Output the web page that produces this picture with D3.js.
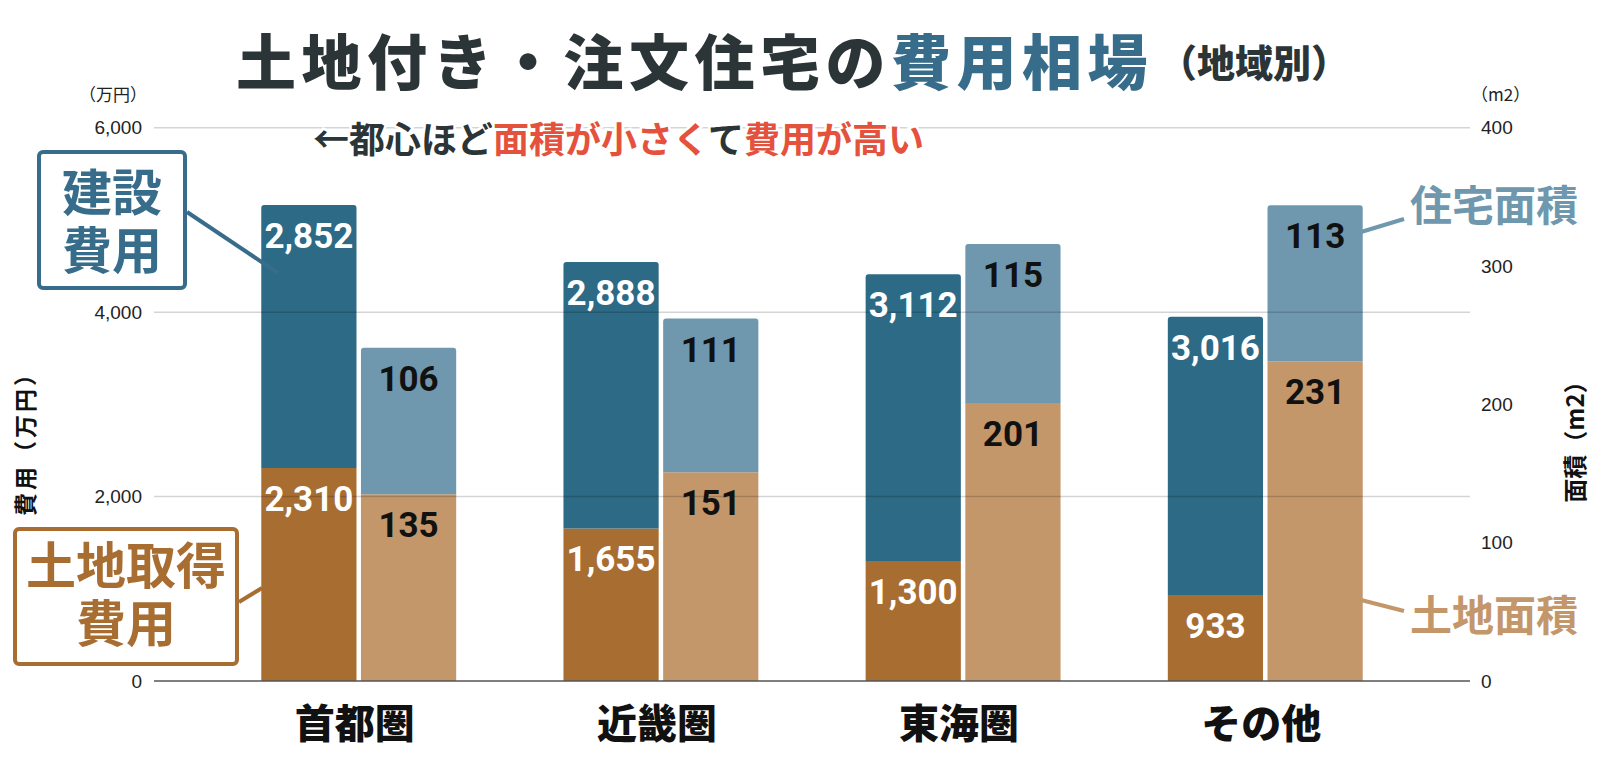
<!DOCTYPE html>
<html>
<head>
<meta charset="utf-8">
<script src="https://cdn.jsdelivr.net/npm/d3@7"></script>
<style>
  html, body { margin: 0; padding: 0; background: #fff; }
  svg { display: block; }
</style>
</head>
<body>
<svg id="chart"></svg>
<script>
const regions = ['首都圏', '近畿圏', '東海圏', 'その他']
const landCost = [2310, 1655, 1300, 933]      // 土地取得費用（万円）
const buildCost = [2852, 2888, 3112, 3016]    // 建設費用（万円）
const landArea = [135, 151, 201, 231]         // 土地面積（m2）
const houseArea = [106, 111, 115, 113]        // 住宅面積（m2）
const costTicks = [0, 2000, 4000, 6000]
const areaTicks = [0, 100, 200, 300, 400]

const W = 1600, H = 768
const JP = '"Noto Sans CJK JP", "Noto Sans", sans-serif'
const NUM = 'Roboto, "Noto Sans", sans-serif'
const TICK = '"Liberation Sans", Arial, sans-serif'

const C = {
  build: '#2c6a86',
  land: '#a86d31',
  house: '#6f98ae',
  landArea: '#c4976a',
  title: '#2b3436',
  accent: '#376d8b',
  red: '#e4513c'
}

const plot = { left: 154, right: 1470, top: 127.7, bottom: 681 }

const svg = d3.select('#chart').attr('width', W).attr('height', H)

const x = d3.scaleBand().domain(regions).range([plot.left, plot.right]).padding(0.355)
const sub = d3.scaleBand().domain(['cost', 'area']).range([0, x.bandwidth()]).paddingInner(0.045)
const yCost = d3.scaleLinear().domain([0, 6000]).range([plot.bottom, plot.top])
const yArea = d3.scaleLinear().domain([0, 400]).range([plot.bottom, plot.top])

// bar with rounded top corners
function topRounded(x0, y0, w, h, r) {
  return `M${x0},${y0 + h}V${y0 + r}Q${x0},${y0} ${x0 + r},${y0}H${x0 + w - r}Q${x0 + w},${y0} ${x0 + w},${y0 + r}V${y0 + h}Z`
}

// build a list of segments from the arrays
const segments = []
regions.forEach((r, i) => {
  const xc = x(r) + sub('cost'), xa = x(r) + sub('area'), bw = sub.bandwidth()
  segments.push({ x: xc, w: bw, y0: yCost(landCost[i]), y1: yCost(0), v: landCost[i], fill: C.land, text: '#fff', top: false })
  segments.push({ x: xc, w: bw, y0: yCost(landCost[i] + buildCost[i]), y1: yCost(landCost[i]), v: buildCost[i], fill: C.build, text: '#fff', top: true })
  segments.push({ x: xa, w: bw, y0: yArea(landArea[i]), y1: yArea(0), v: landArea[i], fill: C.landArea, text: '#111', top: false })
  segments.push({ x: xa, w: bw, y0: yArea(landArea[i] + houseArea[i]), y1: yArea(landArea[i]), v: houseArea[i], fill: C.house, text: '#111', top: true })
})

svg.append('g').selectAll('path')
  .data(segments)
  .enter()
  .append('path')
  .attr('d', d => d.top ? topRounded(d.x, d.y0, d.w, d.y1 - d.y0, 3) : `M${d.x},${d.y0}h${d.w}V${d.y1}h${-d.w}Z`)
  .attr('fill', d => d.fill)

// gridlines drawn over the bars, faint
svg.append('g').selectAll('line')
  .data(costTicks.filter(t => t > 0))
  .enter()
  .append('line')
  .attr('x1', plot.left).attr('x2', plot.right)
  .attr('y1', d => yCost(d)).attr('y2', d => yCost(d))
  .attr('stroke', '#000').attr('stroke-opacity', 0.17).attr('stroke-width', 1.5)

svg.append('line')
  .attr('x1', plot.left).attr('x2', plot.right)
  .attr('y1', yCost(0)).attr('y2', yCost(0))
  .attr('stroke', '#555').attr('stroke-width', 1.6)

// value labels
svg.append('g').selectAll('text')
  .data(segments)
  .enter()
  .append('text')
  .attr('x', d => d.x + d.w / 2)
  .attr('y', d => d.y0 + 43)
  .attr('text-anchor', 'middle')
  .attr('font-family', NUM)
  .attr('font-weight', 700)
  .attr('font-size', 35)
  .attr('fill', d => d.text)
  .text(d => d3.format(',')(d.v))

// left axis
const leftAxis = svg.append('g')
  .attr('transform', `translate(${plot.left - 12},0)`)
  .call(d3.axisLeft(yCost).tickValues(costTicks).tickFormat(d3.format(',')).tickSize(0).tickPadding(0))
leftAxis.select('.domain').remove()
leftAxis.selectAll('text').attr('font-family', TICK).attr('font-size', 19).attr('fill', '#222')

const rightAxis = svg.append('g')
  .attr('transform', `translate(${plot.right + 11},0)`)
  .call(d3.axisRight(yArea).tickValues(areaTicks).tickSize(0).tickPadding(0))
rightAxis.select('.domain').remove()
rightAxis.selectAll('text').attr('font-family', TICK).attr('font-size', 19).attr('fill', '#222')

svg.append('text').attr('x', 147).attr('y', 93).attr('text-anchor', 'end').attr('dominant-baseline', 'central')
  .attr('font-family', JP).attr('font-size', 17).attr('fill', '#222').text('（万円）')
svg.append('text').attr('x', 1471).attr('y', 93).attr('dominant-baseline', 'central')
  .attr('font-family', JP).attr('font-size', 17).attr('fill', '#222').text('（m2）')

svg.append('text').attr('transform', 'translate(24,438) rotate(-90)').attr('text-anchor', 'middle')
  .attr('dominant-baseline', 'central').attr('font-family', JP).attr('font-weight', 700)
  .attr('font-size', 23).attr('letter-spacing', 3).attr('fill', '#111').text('費用（万円）')
svg.append('text').attr('transform', 'translate(1573,436) rotate(-90)').attr('text-anchor', 'middle')
  .attr('dominant-baseline', 'central').attr('font-family', JP).attr('font-weight', 700)
  .attr('font-size', 24).attr('fill', '#111').text('面積（m2）')

// category labels
svg.append('g').selectAll('text')
  .data(regions)
  .enter()
  .append('text')
  .attr('x', d => x(d) + x.bandwidth() / 2 - 4)
  .attr('y', 721)
  .attr('text-anchor', 'middle')
  .attr('dominant-baseline', 'central')
  .attr('font-family', JP)
  .attr('font-weight', 900)
  .attr('font-size', 40)
  .attr('fill', '#111')
  .text(d => d)

// title
const title = svg.append('text').attr('x', 236).attr('y', 58).attr('dominant-baseline', 'central')
  .attr('font-family', JP).attr('font-weight', 900).attr('font-size', 60).attr('letter-spacing', 5.5)
title.append('tspan').attr('fill', C.title).text('土地付き・注文住宅の')
title.append('tspan').attr('fill', C.accent).text('費用相場')
title.append('tspan').attr('fill', C.title).attr('font-size', 38).attr('letter-spacing', 0).attr('dx', 6).attr('dy', 2).text('（地域別）')

// note under title
const note = svg.append('text').attr('x', 313).attr('y', 137).attr('dominant-baseline', 'central')
  .attr('font-family', JP).attr('font-weight', 700).attr('font-size', 36)
  .attr('stroke', '#fff').attr('stroke-width', 5).attr('paint-order', 'stroke')
const noteParts = [['←都心ほど', C.title], ['面積が小さく', C.red], ['て', C.title], ['費用が高い', C.red]]
noteParts.forEach(p => note.append('tspan').attr('fill', p[1]).text(p[0]))

// callouts
function callout(lines, cx, cy, lineH, size, color, box, from, to) {
  if (box) {
    svg.append('rect').attr('x', box[0]).attr('y', box[1]).attr('width', box[2]).attr('height', box[3])
      .attr('rx', 4).attr('fill', '#fff').attr('stroke', color).attr('stroke-width', 4)
  }
  svg.append('line').attr('x1', from[0]).attr('y1', from[1]).attr('x2', to[0]).attr('y2', to[1])
    .attr('stroke', color).attr('stroke-width', 4)
  const t = svg.append('text').attr('text-anchor', 'middle')
    .attr('font-family', JP).attr('font-weight', 700)
    .attr('font-size', size).attr('fill', color)
  lines.forEach((l, i) => {
    t.append('tspan').attr('x', cx).attr('y', cy + i * lineH + size * 0.36).text(l)
  })
}

callout(['建設', '費用'], 112, 193, 58, 50, C.accent, [39, 152, 146, 136], [187, 212], [278, 273])
callout(['土地取得', '費用'], 126, 566, 58, 50, C.land, [15, 529, 222, 135], [239, 602], [262, 588])
callout(['住宅面積'], 1494, 206, 0, 42, C.house, null, [1361, 232], [1404, 219])
callout(['土地面積'], 1494, 616, 0, 42, C.landArea, null, [1361, 600], [1404, 611])
</script>
</body>
</html>
